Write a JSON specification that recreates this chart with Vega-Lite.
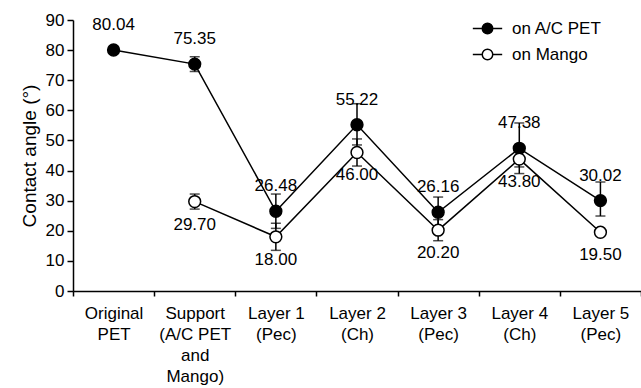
{
  "$schema": "https://vega.github.io/schema/vega-lite/v6.json",
  "autosize": {"type": "none"},
  "width": 568,
  "height": 271,
  "padding": {"left": 73, "top": 20, "right": 0, "bottom": 97},
  "background": "white",
  "config": {
    "font": "Liberation Sans",
    "view": {"stroke": null},
    "axisY": {"tickCount": 10, "labelOverlap": false, "tickSize": 6, "labelPadding": 3, "labelFont": "Liberation Sans", "labelFontSize": 17, "labelColor": "black", "titleFont": "Liberation Sans", "titleFontSize": 19, "titleFontWeight": "normal", "titleColor": "black", "titlePadding": 6, "domainColor": "black", "tickColor": "black", "domainWidth": 1.5, "tickWidth": 1.5, "grid": false}
  },
  "data": {"values": [
    {"cat": "Original|PET", "series": "on A/C PET", "value": 80.04, "lo": 79.3, "hi": 80.8, "lab": "80.04"},
    {"cat": "Support|(A/C PET|and|Mango)", "series": "on A/C PET", "value": 75.35, "lo": 72.9, "hi": 77.8, "lab": "75.35"},
    {"cat": "Support|(A/C PET|and|Mango)", "series": "on Mango", "value": 29.7, "lo": 27.2, "hi": 32.2, "lab": "29.70"},
    {"cat": "Layer 1|(Pec)", "series": "on A/C PET", "value": 26.48, "lo": 20.8, "hi": 32.2, "lab": "26.48"},
    {"cat": "Layer 1|(Pec)", "series": "on Mango", "value": 18.0, "lo": 13.5, "hi": 22.5, "lab": "18.00"},
    {"cat": "Layer 2|(Ch)", "series": "on A/C PET", "value": 55.22, "lo": 48.5, "hi": 62.2, "lab": "55.22"},
    {"cat": "Layer 2|(Ch)", "series": "on Mango", "value": 46.0, "lo": 41.5, "hi": 50.5, "lab": "46.00"},
    {"cat": "Layer 3|(Pec)", "series": "on A/C PET", "value": 26.16, "lo": 21.2, "hi": 31.2, "lab": "26.16"},
    {"cat": "Layer 3|(Pec)", "series": "on Mango", "value": 20.2, "lo": 16.7, "hi": 23.7, "lab": "20.20"},
    {"cat": "Layer 4|(Ch)", "series": "on A/C PET", "value": 47.38, "lo": 39.0, "hi": 55.8, "lab": "47.38"},
    {"cat": "Layer 4|(Ch)", "series": "on Mango", "value": 43.8, "lo": 41.2, "hi": 46.4, "lab": "43.80"},
    {"cat": "Layer 5|(Pec)", "series": "on A/C PET", "value": 30.02, "lo": 24.9, "hi": 36.2, "lab": "30.02"},
    {"cat": "Layer 5|(Pec)", "series": "on Mango", "value": 19.5, "lo": 19.0, "hi": 20.0, "lab": "19.50"}
  ]},
  "encoding": {
    "x": {
      "field": "cat", "type": "nominal", "sort": null,
      "scale": {"domain": ["Original|PET", "Support|(A/C PET|and|Mango)", "Layer 1|(Pec)", "Layer 2|(Ch)", "Layer 3|(Pec)", "Layer 4|(Ch)", "Layer 5|(Pec)"], "paddingInner": 0, "paddingOuter": 0},
      "axis": {"title": null, "labelAngle": 0, "labelExpr": "split(datum.label, '|')", "tickBand": "extent", "labelPadding": 9, "labelLineHeight": 21, "tickSize": 5, "labelFont": "Liberation Sans", "labelFontSize": 17, "labelColor": "black", "domainColor": "black", "tickColor": "black", "domainWidth": 1.5, "tickWidth": 1.5, "labelBaseline": "top", "grid": false}
    },
    "y": {"field": "value", "type": "quantitative", "scale": {"domain": [0, 90], "nice": false},
      "axis": {"title": "Contact angle (°)"}}
  },
  "layer": [
    {
      "mark": {"type": "line", "color": "black", "strokeWidth": 1.5},
      "encoding": {"detail": {"field": "series"}}
    },
    {
      "mark": {"type": "rule", "color": "black", "strokeWidth": 1.5},
      "encoding": {"y": {"field": "lo", "type": "quantitative"}, "y2": {"field": "hi"}}
    },
    {
      "mark": {"type": "tick", "color": "black", "thickness": 1.5, "size": 10},
      "encoding": {"y": {"field": "lo", "type": "quantitative"}}
    },
    {
      "mark": {"type": "tick", "color": "black", "thickness": 1.5, "size": 10},
      "encoding": {"y": {"field": "hi", "type": "quantitative"}}
    },
    {
      "mark": {"type": "point", "filled": false, "stroke": "black", "strokeWidth": 1.5, "size": 140, "opacity": 1},
      "encoding": {
        "fill": {"field": "series", "type": "nominal", "scale": {"domain": ["on A/C PET", "on Mango"], "range": ["black", "white"]},
          "legend": {"title": null, "orient": "none", "legendX": 392, "legendY": 0, "symbolSize": 110, "symbolStrokeColor": "black", "symbolStrokeWidth": 1.5, "labelFontSize": 17, "labelColor": "black", "labelFont": "Liberation Sans", "labelOffset": 16, "rowPadding": 8, "symbolOffset": 14,
            "symbolType": "M -2.8 0 L -1 0 M 1 0 L 2.8 0 M 1 0 A 1 1 0 1 1 -1 0 A 1 1 0 1 1 1 0 Z",
            "encode": {"symbols": {"shape": {"value": "M -2.8 0 L -1 0 M 1 0 L 2.8 0 M 1 0 A 1 1 0 1 1 -1 0 A 1 1 0 1 1 1 0 Z"}}}}
        }
      }
    },
    {
      "transform": [{"filter": "datum.series == 'on A/C PET'"}],
      "mark": {"type": "text", "fontSize": 17, "dy": -25, "color": "black", "font": "Liberation Sans"},
      "encoding": {"text": {"field": "lab"}}
    },
    {
      "transform": [{"filter": "datum.series == 'on Mango'"}],
      "mark": {"type": "text", "fontSize": 17, "dy": 23, "color": "black", "font": "Liberation Sans"},
      "encoding": {"text": {"field": "lab"}}
    }
  ]
}
